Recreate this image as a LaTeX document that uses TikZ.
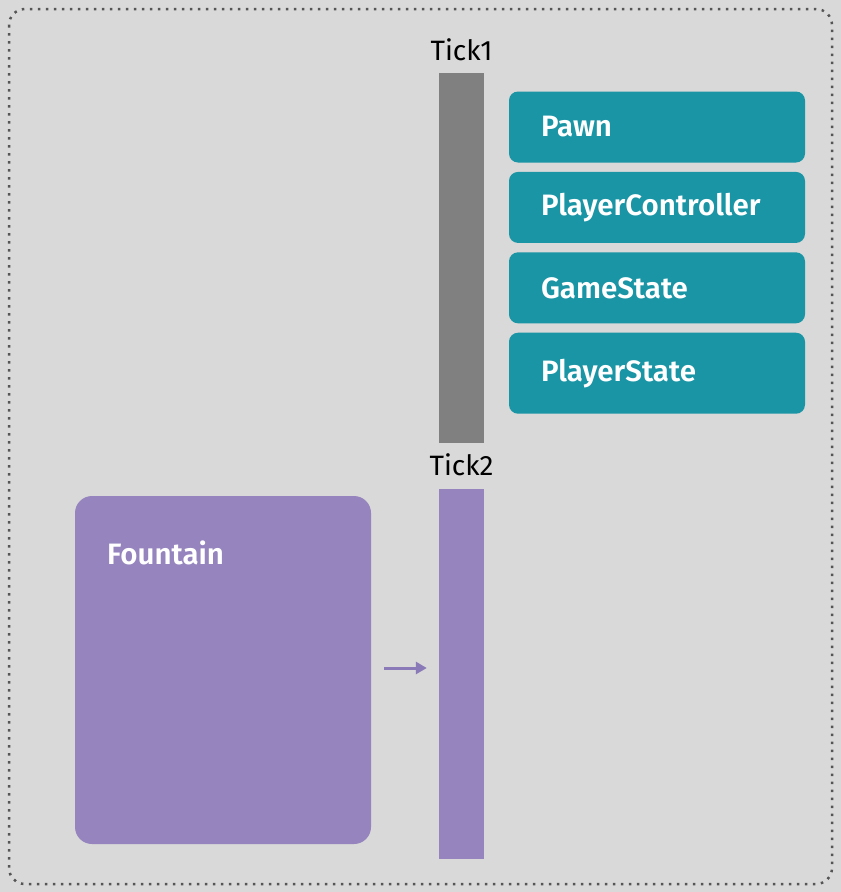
\documentclass[tikz,border=0pt]{standalone}
\usepackage{fontspec}
\setmainfont{Fira Sans}[BoldFont={Fira Sans SemiBold}]
\usetikzlibrary{arrows.meta, positioning}
\definecolor{cbg}{HTML}{D9D9D9}
\definecolor{cdots}{HTML}{555555}
\definecolor{cbar}{HTML}{808080}
\definecolor{cteal}{HTML}{1A95A5}
\definecolor{cpurple}{HTML}{9584BE}
\definecolor{carrow}{HTML}{8A7AB8}
\tikzset{
  every picture/.style={x=1pt, y=-1pt},
  bar/.style={fill=#1, draw=none, minimum width=45pt, minimum height=370pt, inner sep=0pt},
  ticklabel/.style={font=\fontsize{28}{32}\selectfont, text=black, inner sep=0pt},
  comp/.style={fill=cteal, draw=none, rounded corners=9pt, minimum width=296pt, minimum height=71pt,
    text width=232pt, inner xsep=32pt, align=left, text=white, font=\fontsize{29.5}{33}\selectfont\bfseries},
  boxtext/.style={text=white, font=\fontsize{29.5}{33}\selectfont\bfseries, inner sep=0pt},
  flow/.style={-{Triangle[length=11pt, width=12pt]}, draw=carrow, line width=3pt},
}
\begin{document}
\begin{tikzpicture}
  % frame
  \fill[cbg] (0,0) rectangle (841,892);
  \useasboundingbox (0,0) rectangle (841,892);
  \draw[cdots, line width=2.5pt, dash pattern=on 2.5pt off 5.5pt, rounded corners=16pt] (9,9) rectangle (832,884);
  % tick 1
  \node[bar=cbar] (tick1) at (461.5,258) {};
  \node[ticklabel, above=12pt of tick1] (tick1lab) {Tick1};
  \node[comp] (pawn) at (657,127) {Pawn};
  \node[comp, below=9pt of pawn] (pc) {PlayerController};
  \node[comp, below=9pt of pc] (gs) {GameState};
  \node[comp, below=9pt of gs, minimum height=81pt] (ps) {PlayerState};
  % tick 2
  \node[bar=cpurple] (tick2) at (461.5,673.5) {};
  \node[ticklabel, above=12pt of tick2] (tick2lab) {Tick2};
  \node[fill=cpurple, rounded corners=17pt, minimum width=296pt, minimum height=348pt, inner sep=0pt] (fountain) at (223,670) {};
  \node[boxtext, anchor=west] (fountainlab) at ([xshift=32pt, yshift=-57pt]fountain.north west) {Fountain};
  \draw[flow] ([xshift=13pt, yshift=2pt]fountain.east) -- ([xshift=-12pt, yshift=5.5pt]tick2.west);
\end{tikzpicture}
\end{document}
